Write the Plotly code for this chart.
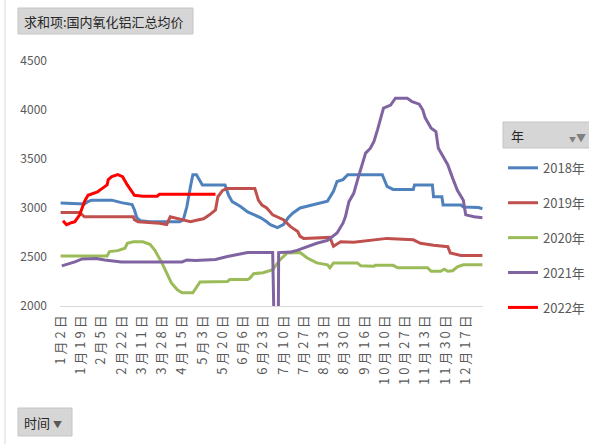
import pandas as pd
import plotly.graph_objects as go

# Category axis: trading days (month-day) used by the pivot chart
skip_days = ["04-05", "05-01", "10-01", "10-02", "10-03", "10-04", "10-05", "10-06", "10-07"]
all_days = [d.strftime("%m-%d") for d in pd.date_range("2021-01-02", "2021-12-31")]
days = [d for d in all_days if d not in skip_days]


def lab(md):
    m, d = md.split("-")
    return f"{int(m)}月{int(d)}日"


categories = [lab(d) for d in days]

tick_labels = ["1月2日", "1月19日", "2月5日", "2月22日", "3月11日", "3月28日", "4月15日",
               "5月3日", "5月20日", "6月6日", "6月23日", "7月10日", "7月27日", "8月13日",
               "8月30日", "9月16日", "10月10日", "10月27日", "11月13日", "11月30日", "12月17日"]

d2018 = ["01-02", "01-22", "01-25", "01-28", "02-14", "02-22", "03-03", "03-05", "03-07", "03-10",
         "03-18", "04-13", "04-16", "04-19", "04-22", "04-24", "04-27", "05-03", "05-22", "05-25",
         "05-28", "06-04", "06-10", "06-15", "06-21", "06-26", "06-29", "07-05", "07-10", "07-14",
         "07-18", "07-24", "08-02", "08-10", "08-16", "08-21", "08-24", "08-29", "09-02", "10-08",
         "10-12", "10-17", "11-03", "11-04", "11-19", "11-20", "11-27", "11-28", "12-13", "12-15",
         "12-28", "12-31"]
v2018 = [3050, 3040, 3065, 3080, 3080, 3055, 3035, 2980, 2900, 2870,
         2860, 2860, 2880, 3015, 3220, 3340, 3340, 3235, 3235, 3130,
         3065, 3015, 2960, 2930, 2900, 2860, 2830, 2800, 2830, 2900,
         2950, 3000, 3030, 3050, 3070, 3170, 3270, 3290, 3340, 3340,
         3220, 3190, 3190, 3235, 3235, 3115, 3115, 3030, 3030, 3010,
         3005, 2990]

d2019 = ["01-02", "01-18", "01-22", "03-04", "03-05", "03-08", "03-26", "04-01", "04-04", "04-11",
         "04-16", "04-22", "04-27", "05-04", "05-09", "05-14", "05-16", "05-20", "05-24", "06-16",
         "06-19", "06-22", "06-26", "07-01", "07-10", "07-16", "07-22", "07-24", "07-27", "08-18",
         "08-21", "08-27", "09-07", "09-21", "10-12", "11-03", "11-09", "11-20", "12-02", "12-04",
         "12-13", "12-31"]
v2019 = [2955, 2955, 2910, 2910, 2880, 2860, 2845, 2830, 2910, 2895,
         2880, 2860, 2875, 2890, 2930, 2980, 3115, 3180, 3200, 3200,
         3080, 3030, 3000, 2930, 2880, 2810, 2760, 2710, 2690, 2700,
         2610, 2655, 2650, 2670, 2690, 2675, 2640, 2620, 2605, 2540,
         2515, 2515]

d2020 = ["01-02", "02-10", "02-12", "02-19", "02-25", "02-27", "03-04", "03-12", "03-18", "03-22",
         "03-28", "04-01", "04-06", "04-11", "04-15", "04-24", "04-27", "04-30", "05-24", "05-26",
         "06-10", "06-12", "06-15", "06-23", "07-01", "07-07", "07-13", "07-24", "07-30", "08-07",
         "08-16", "08-18", "08-21", "09-10", "09-13", "09-24", "09-25", "10-17", "10-21", "11-15",
         "11-18", "11-26", "11-29", "12-02", "12-06", "12-10", "12-15", "12-31"]
v2020 = [2510, 2510, 2555, 2565, 2590, 2640, 2655, 2655, 2630, 2570,
         2440, 2335, 2235, 2165, 2135, 2135, 2190, 2245, 2250, 2270,
         2270, 2285, 2330, 2340, 2370, 2470, 2540, 2545, 2490, 2440,
         2420, 2390, 2440, 2440, 2410, 2405, 2415, 2415, 2390, 2390,
         2355, 2355, 2375, 2355, 2360, 2400, 2420, 2420]

d2021 = ["01-03", "01-14", "01-20", "02-01", "02-08", "02-22", "04-15", "04-19", "04-26", "05-14",
         "05-24", "06-04", "06-10", "07-01", "07-02", "07-05", "07-06", "07-16", "07-22", "07-30",
         "08-07", "08-16", "08-24", "08-29", "08-31", "09-03", "09-07", "09-11", "09-14", "09-17",
         "09-21", "09-24", "09-27", "09-30", "10-09", "10-15", "10-19", "10-29", "11-02", "11-08",
         "11-11", "11-13", "11-18", "11-22", "11-24", "11-28", "12-02", "12-06", "12-10", "12-15",
         "12-17", "12-24", "12-31"]
v2021 = [2410, 2450, 2480, 2485, 2470, 2450, 2450, 2470, 2465, 2475,
         2505, 2530, 2545, 2545, 0, 0, 2545, 2550, 2570, 2605,
         2640, 2670, 2745, 2845, 2910, 3065, 3150, 3320, 3440, 3560,
         3610, 3680, 3800, 3950, 4020, 4050, 4120, 4120, 4085, 4060,
         4000, 3920, 3815, 3780, 3610, 3525, 3440, 3305, 3180, 3080,
         2930, 2910, 2900]

d2022 = ["01-04", "01-07", "01-11", "01-14", "01-18", "01-22", "01-25", "02-02", "02-06", "02-10",
         "02-11", "02-14", "02-19", "02-23", "02-27", "03-01", "03-04", "03-05", "03-12", "03-24",
         "03-26", "05-14"]
v2022 = [2870, 2830, 2850, 2860, 2930, 3065, 3130, 3165, 3200, 3235,
         3290, 3320, 3340, 3320, 3235, 3200, 3150, 3130, 3120, 3120,
         3140, 3140]

series = [
    ("2018年", d2018, v2018, "#4F81BD"),
    ("2019年", d2019, v2019, "#C0504D"),
    ("2020年", d2020, v2020, "#9BBB59"),
    ("2021年", d2021, v2021, "#8064A2"),
    ("2022年", d2022, v2022, "#FF0000"),
]

FONT = "Noto Sans CJK SC"
fig = go.Figure()
for i, (name, dts, vals, col) in enumerate(series):
    fig.add_trace(go.Scatter(
        x=[lab(d) for d in dts], y=vals, mode="lines", name=name,
        line=dict(color=col, width=3), legendgroup=f"g{i}",
    ))


def px_x(x):
    return (x - 60) / 423


def px_y(y):
    return (306 - y) / 245


# paper is a bit wider than the 589px window so the legend can run off the right edge, as in the source
fig.update_layout(
    width=630, height=444,
    margin=dict(l=60, r=147, t=61, b=138),
    paper_bgcolor="white", plot_bgcolor="white",
    font=dict(family=FONT, size=12, color="#595959"),
    showlegend=True,
    legend=dict(x=px_x(503), xanchor="left", y=0.625, yanchor="top", xref="paper", yref="paper",
                font=dict(family=FONT, size=13, color="#595959"),
                tracegroupgap=15, itemwidth=30, bgcolor="rgba(0,0,0,0)"),
    xaxis=dict(type="category", categoryorder="array", categoryarray=categories,
               range=[-0.5, len(categories) - 0.5],
               tickmode="array", tickvals=tick_labels, ticktext=tick_labels,
               tickangle=-90, tickfont=dict(family=FONT, size=13, color="#595959"),
               showgrid=False, showline=True, linecolor="#D9D9D9", linewidth=1,
               ticks="", zeroline=False),
    yaxis=dict(range=[2000, 4500], tickvals=[2000, 2500, 3000, 3500, 4000, 4500],
               showgrid=False, showline=False, zeroline=False, ticks="",
               tickfont=dict(family=FONT, size=12, color="#595959"), ticklabelstandoff=12),
)

# chart area border on the left
fig.add_shape(type="line", xref="paper", yref="paper", x0=px_x(5), x1=px_x(5),
              y0=px_y(444), y1=px_y(0), line=dict(color="#D9D9D9", width=1))

# Pivot field buttons
fig.add_shape(type="rect", xref="paper", yref="paper", x0=px_x(18), x1=px_x(193), y0=px_y(34), y1=px_y(8),
              fillcolor="#D6D6D6", line=dict(color="#C4C4C4", width=1), layer="below")
fig.add_annotation(xref="paper", yref="paper", x=px_x(22), y=px_y(21), xanchor="left", yanchor="middle",
                   text="求和项:国内氧化铝汇总均价", showarrow=False,
                   font=dict(family=FONT, size=13, color="#262626"))
fig.add_shape(type="rect", xref="paper", yref="paper", x0=px_x(18), x1=px_x(72), y0=px_y(436), y1=px_y(408),
              fillcolor="#D6D6D6", line=dict(color="#C4C4C4", width=1), layer="below")
fig.add_annotation(xref="paper", yref="paper", x=px_x(22), y=px_y(422), xanchor="left", yanchor="middle",
                   text="时间 <span style='font-size:9px;color:#595959'>▼</span>", showarrow=False,
                   font=dict(family=FONT, size=13, color="#262626"))
fig.add_shape(type="rect", xref="paper", yref="paper", x0=px_x(503), x1=px_x(600), y0=px_y(148), y1=px_y(122),
              fillcolor="#D6D6D6", line=dict(color="#C4C4C4", width=1), layer="below")
fig.add_annotation(xref="paper", yref="paper", x=px_x(509), y=px_y(135), xanchor="left", yanchor="middle",
                   text="年", showarrow=False, font=dict(family=FONT, size=13, color="#262626"))
fig.add_annotation(xref="paper", yref="paper", x=px_x(588), y=px_y(137), xanchor="right", yanchor="middle",
                   text="<span style='font-size:7px'>▼</span>▼", showarrow=False,
                   font=dict(family=FONT, size=10, color="#7F7F7F"))

post = (
    "document.body.style.margin='0';"
    "document.body.style.overflow='hidden';"
    "document.querySelectorAll('.xtick text').forEach(function(t){t.style.letterSpacing='3px';});"
)
fig.write_html("out.html", config={"displayModeBar": False}, post_script=post)
